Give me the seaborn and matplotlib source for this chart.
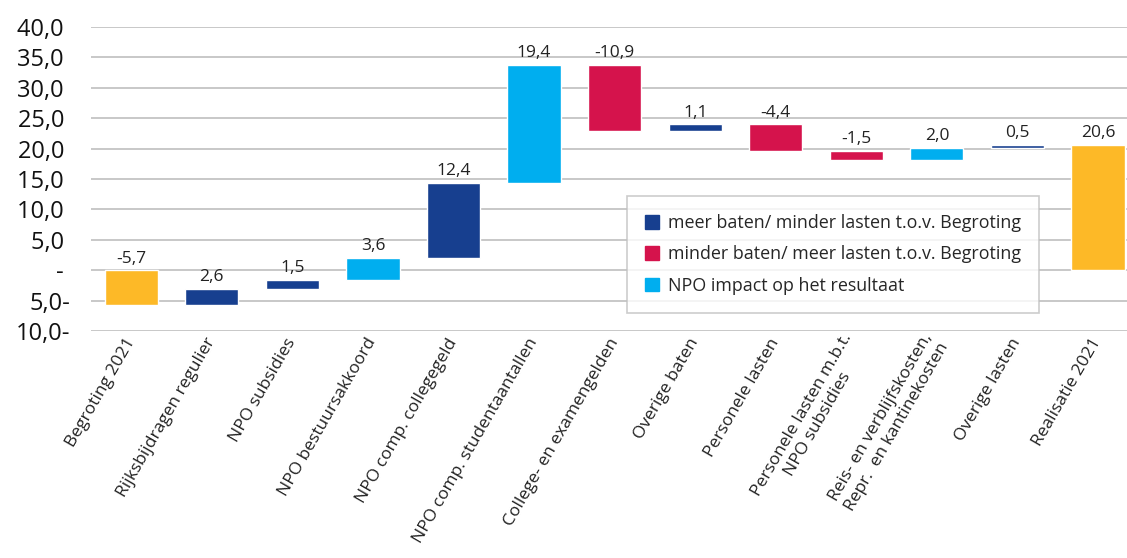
import matplotlib
matplotlib.use("Agg")
import matplotlib.pyplot as plt
import seaborn as sns
import pandas as pd
from matplotlib.patches import Patch

# data
categories = ["Begroting 2021", "Rijksbijdragen regulier", "NPO subsidies",
              "NPO bestuursakkoord", "NPO comp. collegegeld",
              "NPO comp. studentaantallen", "College- en examengelden",
              "Overige baten", "Personele lasten",
              "Personele lasten m.b.t.\nNPO subsidies",
              "Reis- en verblijfskosten,\nRepr.  en kantinekosten",
              "Overige lasten", "Realisatie 2021"]
values = [-5.7, 2.6, 1.5, 3.6, 12.4, 19.4, -10.9, 1.1, -4.4, -1.5, 2.0, 0.5, 20.6]
kinds = ["totaal", "meer", "meer", "npo", "meer", "npo", "minder",
         "meer", "minder", "minder", "npo", "meer", "totaal"]
y_ticks = [-10, -5, 0, 5, 10, 15, 20, 25, 30, 35, 40]
y_ticklabels = ["10,0-", "5,0-", "- ", "5,0 ", "10,0 ", "15,0 ", "20,0 ",
                "25,0 ", "30,0 ", "35,0 ", "40,0 "]
legend_labels = ["meer baten/ minder lasten t.o.v. Begroting",
                 "minder baten/ meer lasten t.o.v. Begroting",
                 "NPO impact op het resultaat"]

colors = {"totaal": "#FDB927", "meer": "#173F8F", "minder": "#D5134C", "npo": "#00AEEF"}

# waterfall starts
starts = []
running = 0.0
for i, v in enumerate(values):
    if kinds[i] == "totaal":
        starts.append(0.0)
        running = v
    else:
        starts.append(running)
        running += v

df = pd.DataFrame({"cat": categories, "val": values, "kind": kinds, "start": starts})

sns.set_style("white")
plt.rcParams["font.family"] = ["Open Sans", "DejaVu Sans"]

fig = plt.figure(figsize=(11.27, 5.58), dpi=100)
ax = fig.add_axes([91 / 1127, 1 - 331 / 558, 1036 / 1127, (331 - 27) / 558])

sns.barplot(data=df, x="cat", y="val", hue="cat",
            palette=[colors[k] for k in kinds], legend=False,
            width=0.66, saturation=1, ax=ax, zorder=3)

# move each bar to its waterfall start
for patch, s in zip(ax.patches, starts):
    patch.set_y(s)

for i, (s, v) in enumerate(zip(starts, values)):
    top = max(s, s + v)
    ax.text(i, top + 0.6, f"{v:.1f}".replace(".", ","), ha="center", va="bottom",
            fontsize=12.5, color="#222222")

ax.set_ylim(-10, 40)
ax.set_xlim(-0.5, 12.36)
ax.set_yticks(y_ticks)
ax.set_yticklabels(y_ticklabels, fontsize=17, color="#111111")
ax.yaxis.grid(True, color="#c8c8c8", linewidth=1.4, zorder=0)
ax.set_axisbelow(True)
ax.tick_params(axis="y", length=0, pad=15)
ax.tick_params(axis="x", length=0, pad=6)
for sp in ax.spines.values():
    sp.set_visible(False)

ax.set_xlabel("")
ax.set_ylabel("")
ax.set_xticks(range(len(categories)))
ax.set_xticklabels(categories, rotation=60, ha="right", va="center",
                   rotation_mode="anchor", fontsize=12.5, color="#222222",
                   multialignment="center")

handles = [Patch(color=colors[k]) for k in ["meer", "minder", "npo"]]
leg = fig.legend(handles, legend_labels, loc="upper left",
                 bbox_to_anchor=(627 / 1127, 1 - 196 / 558),
                 fontsize=12.9, frameon=True, fancybox=False,
                 handlelength=0.8, handleheight=0.8, handletextpad=0.5,
                 labelspacing=0.75, borderpad=1.0, borderaxespad=0)
leg.get_frame().set_edgecolor("#c0c0c0")
leg.get_frame().set_linewidth(1.2)

fig.savefig("out.png", dpi=100)
